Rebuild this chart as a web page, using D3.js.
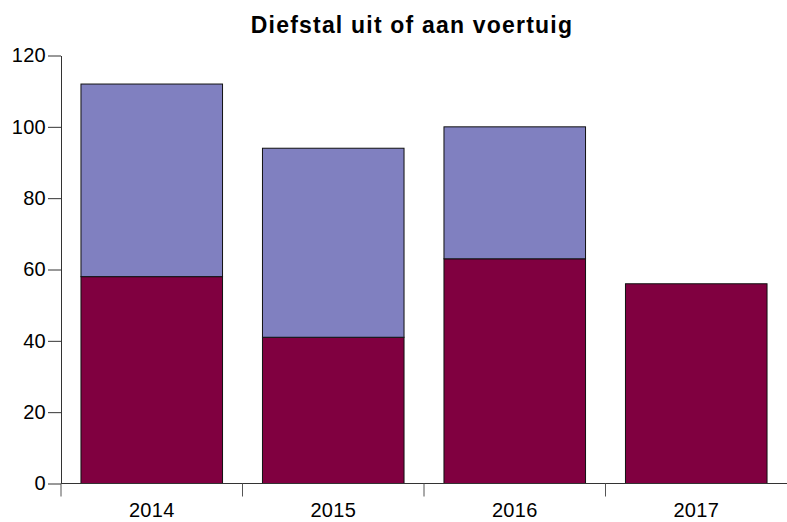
<!DOCTYPE html>
<html>
<head>
<meta charset="utf-8">
<script src="https://cdn.jsdelivr.net/npm/d3@7"></script>
<style>
  body { margin: 0; background: #fff; }
  svg { font-family: "Liberation Sans", Arial, sans-serif; }
</style>
</head>
<body>
<svg class="chart" width="787" height="522"></svg>
<script>
// data
const years = ["2014", "2015", "2016", "2017"];
const lower = [58, 41, 63, 56];
const upper = [54, 53, 37, 0];
const yTicks = [0, 20, 40, 60, 80, 100, 120];

const colors = {lower: "#800040", upper: "#8080c0"};

let svg = d3.select("svg.chart");
const plot = {left: 61, right: 787, top: 55.5, bottom: 483.5};

let x = d3.scaleBand()
  .domain(years)
  .range([plot.left, plot.right])
  .paddingInner(0.22)
  .paddingOuter(0.11);

let y = d3.scaleLinear()
  .domain([0, 120])
  .range([plot.bottom, plot.top]);

// stacked rows
let rows = years.map((yr, i) => ({year: yr, lower: lower[i], upper: upper[i]}));
let stack = d3.stack().keys(["lower", "upper"])(rows);

svg.append("g")
  .selectAll("g")
  .data(stack)
  .enter()
  .append("g")
    .attr("fill", d => colors[d.key])
  .selectAll("rect")
  .data(d => d.filter(s => s[1] > s[0]))
  .enter()
  .append("rect")
    .attr("x", d => x(d.data.year))
    .attr("y", d => y(d[1]))
    .attr("width", x.bandwidth())
    .attr("height", d => y(d[0]) - y(d[1]))
    .attr("stroke", "#111")
    .attr("stroke-width", 1);

// y axis
let yAxis = svg.append("g")
  .attr("transform", `translate(${plot.left},0)`)
  .call(d3.axisLeft(y).tickValues(yTicks).tickSize(13).tickSizeOuter(0).tickPadding(2));
yAxis.select(".domain").attr("stroke", "#333");
yAxis.selectAll(".tick line").attr("stroke", "#333");
yAxis.selectAll("text")
  .attr("font-size", 20)
  .attr("letter-spacing", 0.3)
  .attr("fill", "#000")
  .attr("font-family", "Liberation Sans, Arial, sans-serif");

// x axis, ticks sit on the band edges
let xAxis = svg.append("g")
  .attr("transform", `translate(0,${plot.bottom})`);
xAxis.append("line")
  .attr("x1", plot.left).attr("x2", plot.right)
  .attr("stroke", "#333");
let edges = years.map(yr => x(yr) - x.step() * x.paddingInner() / 2);
edges[0] = plot.left;
xAxis.selectAll("line.tk")
  .data(edges)
  .enter()
  .append("line")
    .attr("class", "tk")
    .attr("x1", d => d).attr("x2", d => d)
    .attr("y1", 0).attr("y2", 13)
    .attr("stroke", "#555");
xAxis.selectAll("text")
  .data(years)
  .enter()
  .append("text")
    .attr("x", d => x(d) + x.bandwidth() / 2)
    .attr("y", 33)
    .attr("text-anchor", "middle")
    .attr("font-size", 20)
    .attr("letter-spacing", 0.3)
    .text(d => d);

// title
svg.append("text")
  .attr("x", 412)
  .attr("y", 32.5)
  .attr("text-anchor", "middle")
  .attr("font-size", 23)
  .attr("letter-spacing", 1.2)
  .attr("font-weight", "bold")
  .text("Diefstal uit of aan voertuig");
</script>
</body>
</html>
